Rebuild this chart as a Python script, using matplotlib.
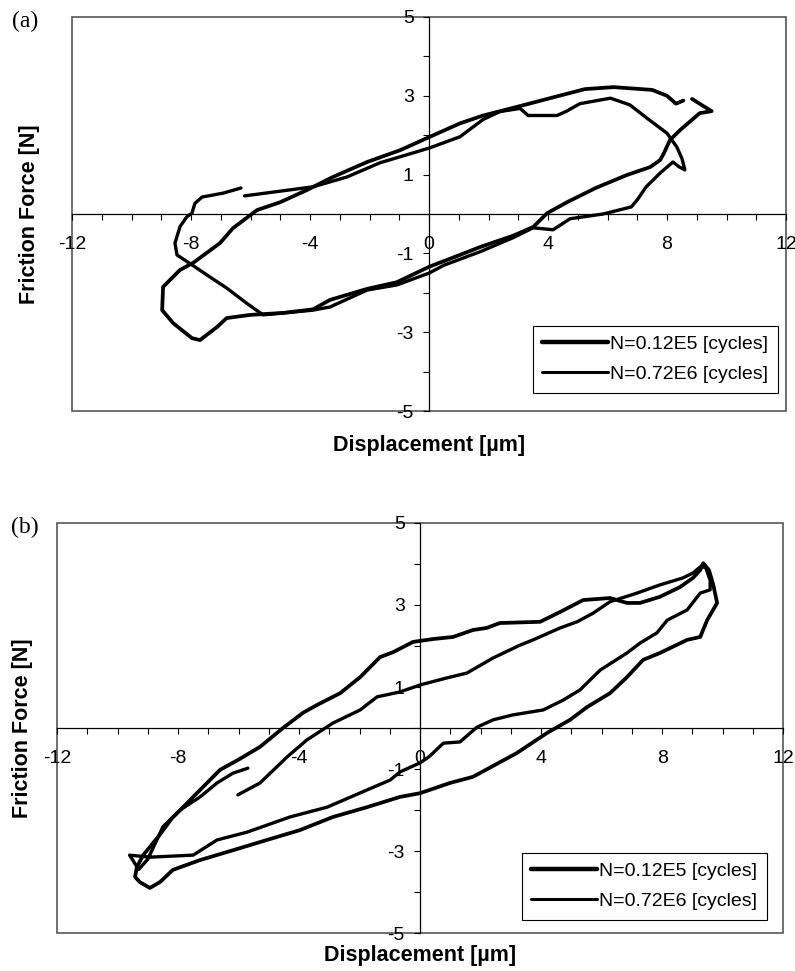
import matplotlib
matplotlib.use("Agg")
import matplotlib.pyplot as plt
from matplotlib.patches import Rectangle
from matplotlib.ticker import MultipleLocator, FuncFormatter

plt.rcParams['font.family'] = ['Liberation Sans', 'DejaVu Sans']
plt.rcParams['axes.unicode_minus'] = False

labels = ["N=0.12E5 [cycles]", "N=0.72E6 [cycles]"]
xtick_labels = [-12, -8, -4, 0, 4, 8, 12]
ytick_labels = [-5, -3, -1, 1, 3, 5]

# panel (a) - N=0.12E5
a1_x = [8.84, 9.2, 9.5, 9.1, 8.9, 8.44, 8.1, 7.9, 7.77, 7.43, 6.65, 5.6, 4.64, 3.97, 3.5,
        2.83, 1.71, 1.0, 0.0, -1.08, -2.08, -3.33, -3.9, -4.9, -6.0, -6.8, -7.13, -7.7,
        -7.97, -8.6, -8.97, -8.94, -8.37, -7.93, -7.03, -6.59, -5.78, -5.0, -4.1, -3.23,
        -2.08, -0.97, 0.03, 1.04, 1.82, 2.96, 4.07, 5.24, 6.2, 7.5, 8.0, 8.3, 8.55]
a1_y = [2.92, 2.75, 2.61, 2.56, 2.43, 2.13, 1.88, 1.55, 1.37, 1.19, 0.99, 0.66, 0.3, 0.02, -0.33,
        -0.55, -0.84, -1.05, -1.34, -1.73, -1.9, -2.18, -2.42, -2.51, -2.56, -2.64, -2.87, -3.2,
        -3.15, -2.77, -2.44, -1.85, -1.42, -1.24, -0.74, -0.36, 0.1, 0.3, 0.61, 0.94,
        1.32, 1.62, 1.96, 2.3, 2.5, 2.72, 2.94, 3.17, 3.22, 3.15, 3.0, 2.8, 2.88]
# panel (a) - N=0.72E6
a2_x = [-6.2, -5.0, -3.9, -2.76, -1.65, -0.54, 0.03, 1.04, 1.82, 2.39, 3.06, 3.33, 4.3, 4.6,
        5.07, 6.1, 6.75, 7.4, 8.0, 8.33, 8.5, 8.6, 8.4, 8.2, 7.77, 7.3, 7.0, 6.8, 5.85, 4.74,
        4.17, 3.5, 2.83, 1.71, 0.5, 0.0, -1.08, -2.08, -3.33, -3.9, -5.58, -6.12, -6.8, -7.46,
        -7.97, -8.47, -8.54, -8.37, -8.14, -7.97, -7.87, -7.63, -6.92, -6.32]
a2_y = [0.46, 0.58, 0.69, 0.94, 1.3, 1.55, 1.68, 1.96, 2.4, 2.6, 2.68, 2.5, 2.5, 2.6,
        2.8, 2.94, 2.77, 2.39, 2.05, 1.7, 1.41, 1.12, 1.2, 1.32, 1.04, 0.69, 0.36, 0.18, 0.0, -0.12,
        -0.4, -0.35, -0.6, -0.96, -1.3, -1.5, -1.8, -1.93, -2.36, -2.44, -2.56, -2.27, -1.88, -1.55,
        -1.29, -1.04, -0.74, -0.32, -0.07, 0.02, 0.27, 0.43, 0.53, 0.66]

# panel (b) - N=0.12E5
b1_x = [-9.36, -9.15, -8.6, -8.2, -7.83, -7.27, -6.61, -5.95, -5.29, -4.53, -3.87, -3.41,
        -2.64, -1.98, -1.32, -0.89, -0.23, 0.43, 1.09, 1.75, 2.2, 2.64, 3.97, 4.63, 5.39, 6.28,
        6.84, 7.27, 7.93, 8.6, 9.02, 9.26, 9.36, 9.55, 9.69, 9.82, 9.49, 9.26, 8.83, 7.93,
        7.37, 6.84, 6.28, 5.52, 4.96, 4.2, 3.2, 1.75, 0.99, 0.0, -0.66, -1.75, -2.88, -3.97,
        -5.06, -6.18, -7.27, -8.17, -8.6, -8.93, -9.26, -9.42, -9.36]
b1_y = [-3.39, -3.1, -2.6, -2.2, -1.93, -1.51, -1.02, -0.75, -0.46, 0.0, 0.37, 0.56,
        0.85, 1.24, 1.73, 1.85, 2.1, 2.17, 2.22, 2.39, 2.44, 2.56, 2.59, 2.83, 3.12, 3.17,
        3.05, 3.05, 3.2, 3.44, 3.66, 3.85, 4.02, 3.85, 3.5, 3.05, 2.63, 2.22, 2.15, 1.83,
        1.66, 1.24, 0.85, 0.51, 0.2, -0.12, -0.61, -1.19, -1.34, -1.59, -1.68, -1.93, -2.17, -2.49,
        -2.73, -2.98, -3.22, -3.46, -3.76, -3.9, -3.76, -3.63, -3.39]
# panel (b) - N=0.72E6
b2_x = [-6.02, -5.29, -4.4, -3.74, -2.88, -1.98, -1.42, -0.66, 0.0, 0.88, 1.55, 2.42, 3.3,
        3.74, 4.63, 5.19, 5.72, 6.28, 7.17, 7.93, 8.69, 9.02, 9.3, 9.45, 9.59, 9.59, 9.26,
        8.83, 8.17, 7.83, 7.27, 6.84, 5.95, 5.29, 4.73, 4.07, 3.07, 2.42, 1.88, 1.32, 0.77,
        0.3, 0.0, -0.66, -0.99, -1.75, -3.07, -4.3, -5.72, -6.71, -7.5, -8.93, -9.6, -9.3,
        -9.0, -8.7, -8.5, -7.93, -7.27, -6.71, -6.18, -5.69]
b2_y = [-1.63, -1.34, -0.71, -0.29, 0.12, 0.44, 0.76, 0.88, 1.05, 1.22, 1.34, 1.71, 2.02,
        2.15, 2.44, 2.59, 2.8, 3.08, 3.29, 3.49, 3.66, 3.78, 3.95, 3.9, 3.6, 3.37, 3.29,
        2.88, 2.63, 2.32, 2.07, 1.83, 1.41, 0.93, 0.68, 0.44, 0.32, 0.2, 0.02, -0.34, -0.37,
        -0.7, -0.85, -1.07, -1.27, -1.51, -1.93, -2.17, -2.54, -2.73, -3.1, -3.15, -3.1, -3.45,
        -3.2, -2.73, -2.41, -2.0, -1.68, -1.34, -1.1, -0.98]


def setup_axes(ax):
    ax.set_xlim(-12, 12)
    ax.set_ylim(-5, 5)
    # axes cross at the origin, the box is drawn separately
    for side in ['top', 'right']:
        ax.spines[side].set_visible(False)
    ax.spines['left'].set_position(('data', 0))
    ax.spines['bottom'].set_position(('data', 0))
    ax.spines['left'].set_linewidth(0.9)
    ax.spines['bottom'].set_linewidth(0.9)
    ax.add_patch(Rectangle((0, 0), 1, 1, transform=ax.transAxes, fill=False,
                           edgecolor='#555555', linewidth=1.2, clip_on=False, zorder=0))
    ax.xaxis.set_major_locator(MultipleLocator(1))
    ax.yaxis.set_major_locator(MultipleLocator(1))
    ax.xaxis.set_major_formatter(FuncFormatter(
        lambda v, p: str(int(round(v))) if int(round(v)) in xtick_labels else ''))
    ax.yaxis.set_major_formatter(FuncFormatter(
        lambda v, p: str(int(round(v))) if int(round(v)) in ytick_labels else ''))
    ax.tick_params(axis='x', direction='out', length=4, width=0.8, pad=12, labelsize=14)
    ax.tick_params(axis='y', direction='out', length=4, width=0.8, pad=7, labelsize=14)


def draw_panel(ax, c1, c2, lab_x, lab_y, leg_anchor):
    setup_axes(ax)
    ax.plot(c1[0], c1[1], color='black', lw=2.7, solid_joinstyle='round',
            solid_capstyle='round', label=labels[0])
    ax.plot(c2[0], c2[1], color='black', lw=2.4, solid_joinstyle='round',
            solid_capstyle='round', label=labels[1])
    ax.set_xlabel('Displacement [µm]', fontsize=15.5, fontweight='bold')
    ax.set_ylabel('Friction Force [N]', fontsize=15.5, fontweight='bold')
    ax.xaxis.set_label_coords(0.5, lab_x)
    ax.yaxis.set_label_coords(lab_y, 0.5)
    leg = ax.legend(loc='lower right', bbox_to_anchor=leg_anchor, borderaxespad=0,
                    fontsize=14, handlelength=3.4, handletextpad=0.1, fancybox=False,
                    framealpha=1, edgecolor='black', borderpad=0.5, labelspacing=0.65)
    leg.get_frame().set_linewidth(0.8)
    leg.legend_handles[0].set_linewidth(3.2)
    leg.legend_handles[1].set_linewidth(2.2)


fig = plt.figure(figsize=(7.95, 9.71), dpi=100)
ax1 = fig.add_axes([0.0906, 0.5767, 0.8981, 0.4058])
ax2 = fig.add_axes([0.0717, 0.0391, 0.9133, 0.4223])

draw_panel(ax1, (a1_x, a1_y), (a2_x, a2_y), -0.062, -0.045, (0.989, 0.046))
draw_panel(ax2, (b1_x, b1_y), (b2_x, b2_y), -0.03, -0.033, (0.978, 0.032))

fig.text(25 / 795, 1 - 21 / 971, '(a)', family='Liberation Serif', fontsize=17,
         ha='center', va='center')
fig.text(25 / 795, 1 - 527 / 971, '(b)', family='Liberation Serif', fontsize=17,
         ha='center', va='center')

fig.savefig('out.png', dpi=100)
